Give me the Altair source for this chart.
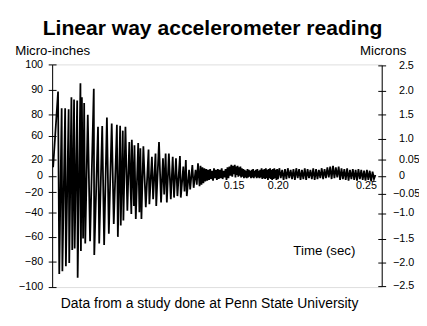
import json
import altair as alt
import pandas as pd

# ---------------- data ----------------
# main decaying oscillation: vertex times (s) and readings (micro-inches)
peak_t = [0.0000, 0.0041, 0.0051, 0.0071, 0.0077, 0.0100, 0.0106, 0.0129, 0.0134, 0.0152,
          0.0159, 0.0174, 0.0179, 0.0200, 0.0204, 0.0227, 0.0231, 0.0239, 0.0249, 0.0258,
          0.0267, 0.0288, 0.0307, 0.0338, 0.0342, 0.0373, 0.0383, 0.0408, 0.0424, 0.0447,
          0.0463, 0.0487, 0.0504, 0.0530, 0.0538, 0.0557, 0.0562, 0.0579, 0.0584, 0.0601,
          0.0617, 0.0633, 0.0650, 0.0654, 0.0671, 0.0676, 0.0687, 0.0707, 0.0717, 0.0725,
          0.0734, 0.0750, 0.0770, 0.0793, 0.0800, 0.0821, 0.0831, 0.0851, 0.0857, 0.0880,
          0.0897, 0.0913, 0.0923, 0.0935, 0.0945, 0.0962, 0.0978, 0.0994, 0.1005, 0.1021,
          0.1033, 0.1054, 0.1061, 0.1082, 0.1092, 0.1103, 0.1111, 0.1130, 0.1139, 0.1157,
          0.1168, 0.1184, 0.1194, 0.1204, 0.1217]
peak_v = [10.2, 89.3, -89.8, 82.4, -87.7, 82.4, -83.8, 82.0, -81.3, 86.9,
          -70.7, 86.0, -69.4, 85.6, -92.8, 92.6, -71.5, 86.9, -61.4, 84.6,
          -65.4, 79.4, -63.5, 90.4, -74.7, 68.3, -65.4, 68.9, -66.7, 76.9,
          -57.4, 71.3, -49.4, 70.1, -60.0, 69.2, -50.7, 64.6, -46.7, 68.3,
          -38.4, 48.8, -41.4, 52.8, -33.6, 43.3, -45.4, 47.2, -40.0, 38.3,
          -45.4, 41.7, -34.9, 36.2, -31.9, 23.8, -27.1, 29.5, -33.6, 48.8,
          -30.3, 21.2, -22.2, 29.5, -30.3, 29.5, -27.1, 23.8, -25.4, 21.2,
          -23.9, 25.0, -25.4, 10.9, -19.2, 18.8, -23.9, 7.1, -16.8, 12.9,
          -14.7, 7.1, -10.8, 14.9, -12.8]

# residual vibration, sampled at a fixed clock
tail_start = 0.1225
tail_dt = 0.0008
tail_v = [12, -11, 10, -9, 9, -7, 8, -6, 7, -5,
          8, -4, 6, -6, 9, -3, 7, -5, 8, -4,
          7, -3, 9, -4, 6, -2, 8, -5, 10, -3,
          11, 0, 13, -1, 12, 2, 13, -2, 11, 1,
          12, -1, 10, 0, 11, -2, 9, -1, 8, -3,
          7, -2, 6, -3, 8, -2, 7, -1, 6, -3,
          7, -2, 8, -3, 6, -1, 7, -3, 8, -2,
          6, -3, 7, -2, 9, -4, 7, -3, 8, -4,
          9, -3, 7, -5, 8, -3, 9, -4, 7, -5,
          8, -4, 9, -3, 7, -5, 8, -4, 9, -3,
          7, -5, 8, -4, 9, -3, 7, -4, 8, -5,
          9, -3, 8, -5, 7, -4, 9, -5, 8, -3,
          7, -4, 9, -5, 8, -4, 7, -3, 9, -4,
          8, -3, 10, -2, 11, -4, 12, -3, 10, -2,
          11, -5, 9, -4, 8, -5, 9, -6, 7, -4,
          8, -5, 7, -6, 8, -4, 7, -5, 6, -6,
          7, -5, 6, -7, 5, -4, 1]

left_ticks = [-100, -80, -60, -40, -20, 0, 20, 60, 80, 90, 100]
right_ticks = [-2.5, -2.0, -1.5, -1.0, -0.05, 0, 0.05, 1.0, 1.5, 2.0, 2.5]
right_labels = ["−2.5", "−2.0", "−1.5", "−1.0", "−0.05", "0", "0.05", "1.0", "1.5", "2.0", "2.5"]
time_ticks = [0.15, 0.20, 0.25]
time_knots = [0, 0.15, 0.20, 0.25, 0.26]

TITLE = "Linear way accelerometer reading"
CAPTION = "Data from a study done at Penn State University"

# ---------------- layout (the printed, uneven scales) ----------------
W, H = 336, 227
left_px = [226.8, 200.8, 175.8, 150.8, 130.2, 113.5, 96.5, 72.5, 50.8, 25.8, 0.2]
right_px = [225.8, 201.5, 177.5, 151.5, 131.5, 113.5, 96.5, 75.8, 50.8, 26.8, 0.8]
time_px = [1, 185, 230, 320, 338]
FONT = "Liberation Sans"

sig = pd.DataFrame({
    "t": peak_t + [tail_start + i * tail_dt for i in range(len(tail_v))],
    "v": peak_v + tail_v,
})
lt = pd.DataFrame({"mi": left_ticks})
rt = pd.DataFrame({"mu": right_ticks, "t0": [0.0] * len(right_ticks)})

xscale = alt.Scale(domain=time_knots, range=time_px, nice=False, zero=False)
lscale = alt.Scale(domain=left_ticks, range=left_px, nice=False, zero=False)
rscale = alt.Scale(domain=right_ticks, range=right_px, nice=False, zero=False)

common = dict(labelFont=FONT, labelFontSize=11, labelColor="black", titleFont=FONT,
              titleColor="black", titleFontWeight="normal", grid=False, labelFlush=False,
              labelOverlap=False, tickColor="black", domainColor="black")

signal = alt.Chart(sig).mark_line(color="black", strokeWidth=1.8).encode(
    x=alt.X("t:Q", scale=xscale, axis=alt.Axis(
        orient="bottom", offset=-113.5, domain=False, ticks=False, values=time_ticks,
        format=".2f", labelPadding=4, title="Time (sec)", titleX=277, titleY=80,
        titleAlign="center", titleBaseline="alphabetic", titleFontSize=13.5, **common)),
    y=alt.Y("v:Q", scale=lscale, axis=alt.Axis(
        orient="left", offset=-4, domain=False, tickSize=8, values=left_ticks,
        format="d", labelPadding=5.7, title="", **common)),
)

left_dom = alt.Chart(lt).mark_point(opacity=0).encode(
    y=alt.Y("mi:Q", scale=lscale, axis=alt.Axis(
        orient="left", domain=True, domainWidth=1, ticks=False, labels=False,
        title="Micro-inches", titleAngle=0, titleX=0, titleY=-10.5, titleAlign="center",
        titleBaseline="alphabetic", titleFontSize=13.5, **common)),
)

expr = "{}[indexof({}, datum.value)]".format(
    json.dumps(right_labels, ensure_ascii=False), json.dumps(right_ticks))
right_tick = alt.Chart(rt).mark_point(opacity=0).encode(
    y=alt.Y("mu:Q", scale=rscale, axis=alt.Axis(
        orient="right", offset=-4, domain=False, tickSize=8, values=right_ticks,
        labelExpr=expr, labelAlign="left",
        labelPadding={"condition": {"test": "datum.value < 0", "value": 7}, "value": 13},
        title="", **common)),
    x=alt.X("t0:Q", scale=xscale, axis=alt.Axis(
        orient="bottom", domain=False, ticks=False, labels=False,
        title=CAPTION, titleX=160, titleY=21, titleAlign="center",
        titleBaseline="alphabetic", titleFontSize=14.2, **common)),
)

right_dom = alt.Chart(rt).mark_point(opacity=0).encode(
    y=alt.Y("mu:Q", scale=rscale, axis=alt.Axis(
        orient="right", domain=True, domainWidth=1, ticks=False, labels=False,
        title="Microns", titleAngle=0, titleX=1, titleY=-10.5, titleAlign="center",
        titleBaseline="alphabetic", titleFontSize=13.5, **common)),
)

chart = alt.layer(signal, left_dom, right_tick, right_dom).resolve_scale(
    x="independent", y="independent"
).properties(
    width=W, height=H,
    autosize=alt.AutoSizeParams(type="none"),
    padding={"left": 45, "top": 54.5, "right": 38, "bottom": 28.5},
    title=alt.TitleParams(TITLE, font=FONT, fontSize=21.5, fontWeight="bold", color="black",
                          anchor="middle", frame="group", dx=-4.5),
).configure_view(strokeWidth=0).configure(background="white")

chart.save("out.html", embed_options={"renderer": "svg", "actions": False})
